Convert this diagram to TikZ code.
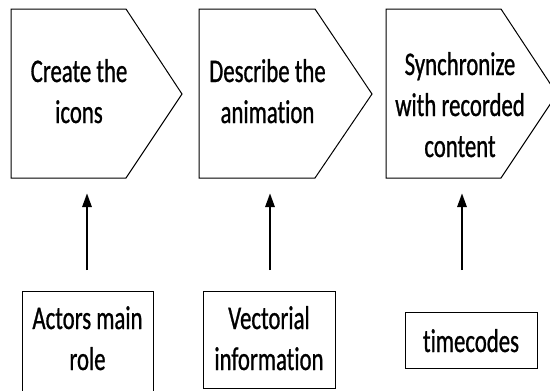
\documentclass[tikz,border=0pt]{standalone}
\usepackage{fontspec}
\newfontfamily\lblfont[FakeStretch=0.69, FakeBold=0.8, Ligatures=NoCommon]{Carlito}
\usetikzlibrary{arrows.meta}
\tikzset{
  outline/.style={draw=black, line width=1pt},
  % anchor=base sits on the last line's baseline
  lbl/.style={font=\lblfont\fontsize{33}{41}\selectfont, align=center, inner sep=0pt, anchor=base},
  boxnode/.style={draw=black, line width=1pt, inner sep=0pt},
  upflow/.style={line width=2.8pt, -{Triangle[length=14pt,width=9pt]}}
}
\begin{document}
\begin{tikzpicture}[x=1pt, y=-1pt]
  \clip (0,0) rectangle (550,391);
  \fill[white] (0,0) rectangle (550,391);

  % process steps (pentagon arrows)
  \draw[outline] (11,9) -- (126,9) -- (182,94) -- (126,178) -- (11,178) -- cycle;
  \draw[outline] (199,9) -- (315,9) -- (372,94) -- (315,178) -- (199,178) -- cycle;
  \draw[outline] (386,9) -- (501,9) -- (557,94) -- (501,178) -- (386,178) -- cycle;

  \node[lbl] (s1) at (79,123) {Create the\\icons};
  \node[lbl] (s2) at (267.5,123) {Describe the\\animation};
  \node[lbl] (s3) at (460,157) {Synchronize\\with recorded\\content};

  % inputs
  \node[boxnode, minimum width=131pt, minimum height=106pt] (b1) at (87.5,344) {};
  \node[boxnode, minimum width=132pt, minimum height=97pt] (b2) at (269,339.5) {};
  \node[boxnode, minimum width=132pt, minimum height=56pt] (b3) at (471,340) {};

  \node[lbl] (t1) at (87.5,370) {Actors main\\role};
  \node[lbl] (t2) at (269,370) {Vectorial\\information};
  \node[lbl] (t3) at (471,352) {timecodes};

  % arrows from inputs to steps
  \coordinate (a1s) at (87,270);  \coordinate (a1e) at (87,193);
  \coordinate (a2s) at (270,270); \coordinate (a2e) at (270,193);
  \coordinate (a3s) at (462,270); \coordinate (a3e) at (462,193);
  \draw[upflow] (a1s) -- (a1e);
  \draw[upflow] (a2s) -- (a2e);
  \draw[upflow] (a3s) -- (a3e);
\end{tikzpicture}
\end{document}
